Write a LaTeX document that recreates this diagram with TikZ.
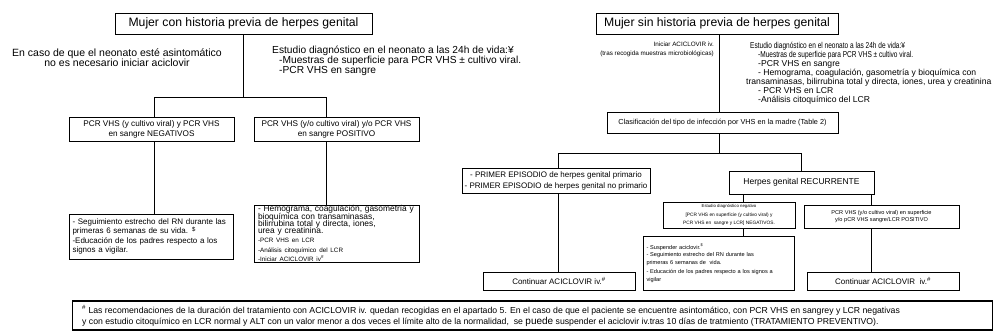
\documentclass[tikz,border=0pt]{standalone}
\usepackage{fontspec}
\usepackage{graphicx}
\setmainfont{Liberation Sans}
\newcommand{\fs}[1]{\fontsize{#1}{#1}\selectfont}
\newcommand{\estrecho}[1]{\scalebox{0.76}[1]{#1}}

\begin{document}
\begin{tikzpicture}[x=1pt,y=-1pt,
	every node/.style={inner sep=0pt},
	caja/.style={draw=black,line width=0.8pt,align=center},
	cajaizq/.style={draw=black,line width=0.8pt,align=left,inner xsep=3.5pt},
	linea/.style={black,line width=0.8pt}]
	\useasboundingbox (0,0) rectangle (994,335);
	\coordinate (xa) at (154,0);
	\coordinate (xb) at (326,0);
	\coordinate (xc) at (719,0);
	\coordinate (xe) at (743,0);
	\coordinate (xf) at (871,0);
	\coordinate (xg) at (558,0);
	\coordinate (r1) at (243.5,97);
	\coordinate (r2) at (719,153);
	% rama izquierda
	\node [caja,minimum width=257pt,minimum height=21pt,font=\fs{12.2}] (mcon) at (243.5,23.5) {Mujer con historia previa de herpes genital};
	\node [align=center,font=\fontsize{10.5}{10}\selectfont] (caso) at (117,58) {En caso de que el neonato esté asintomático\\no es necesario iniciar aciclovir};
	\node [anchor=north west,align=left,font=\fontsize{10.2}{9.8}\selectfont] (est1) at (272,46) {Estudio diagnóstico en el neonato a las 24h de vida:¥\\\hspace*{7pt}-Muestras de superficie para PCR VHS ± cultivo viral.\\\hspace*{7pt}-PCR VHS en sangre};
	\node [caja,minimum width=165pt,minimum height=24pt,font=\fs{8.2}] (neg) at (151.5,129) {PCR VHS (y cultivo viral) y PCR VHS\\[2pt]en sangre NEGATIVOS};
	\node [caja,minimum width=165pt,minimum height=24pt,font=\fs{8.2}] (pos) at (336.5,129) {PCR VHS (y/o cultivo viral) y/o PCR VHS\\[2pt]en sangre POSITIVO};
	\node [cajaizq,text width=157pt,minimum height=45pt,font=\fontsize{8}{9.4}\selectfont] (seg) at (151,236.5) {- Seguimiento estrecho del RN durante las\\primeras 6 semanas de su vida. \textsuperscript{\$}\\-Educación de los padres respecto a los\\signos a vigilar.};
	\node [cajaizq,text width=158pt,minimum height=57pt,font=\fs{8.4}] (hemo) at (337,233.5) {- Hemograma, coagulación, gasometría y\\[-1pt]bioquímica con transaminasas,\\[-1pt]bilirrubina total y directa, iones,\\[-1pt]urea y creatinina.\\[0.5pt]{\fs{6.3}-PCR VHS en LCR}\\[1pt]{\fs{6.3}-Análisis citoquímico del LCR}\\[1pt]{\fs{6.3}-Iniciar ACICLOVIR iv\textsuperscript{\#}}};
	\draw [linea] (mcon.south) -- (r1) -| (neg.north -| xa);
	\draw [linea] (r1) -| (pos.north -| xb);
	\draw [linea] (neg.south -| xa) -- (seg.north -| xa);
	\draw [linea] (pos.south -| xb) -- (hemo.north -| xb);
	% rama derecha
	\node [caja,minimum width=242pt,minimum height=21pt,font=\fs{12.2}] (msin) at (717,23.5) {Mujer sin historia previa de herpes genital};
	\node [anchor=east,align=right,font=\fontsize{6.3}{9}\selectfont] (ini) at (714,49.5) {Iniciar ACICLOVIR iv.\\(tras recogida muestras microbiológicas)};
	\node [anchor=north west,align=left,font=\fontsize{8.6}{9}\selectfont] (est2) at (746,42) {\hspace*{4pt}\estrecho{Estudio diagnóstico en el neonato a las 24h de vida:¥}\\\hspace*{12pt}\estrecho{-Muestras de superficie para PCR VHS ± cultivo viral.}\\\hspace*{12pt}-PCR VHS en sangre\\\hspace*{12pt}- Hemograma, coagulación, gasometría y bioquímica con\\transaminasas, bilirrubina total y directa, iones, urea y creatinina\\\hspace*{12pt}- PCR VHS en LCR\\\hspace*{12pt}-Análisis citoquímico del LCR};
	\node [caja,minimum width=231pt,minimum height=21pt,font=\fs{7.3}] (clas) at (722.5,122.5) {Clasificación del tipo de infección por VHS en la madre (Table 2)};
	\node [caja,minimum width=188pt,minimum height=25pt,font=\fs{8}] (prim) at (556,181) {- PRIMER EPISODIO de herpes genital primario\\[3pt]- PRIMER EPISODIO de herpes genital no primario};
	\node [caja,minimum width=145pt,minimum height=23pt,font=\fs{8.5}] (rec) at (801.5,182.5) {Herpes genital RECURRENTE};
	\node [caja,minimum width=132pt,minimum height=26pt,font=\fs{4.8}] (neste) at (729,215) {{\fs{4.3}Estudio diagnóstico negativo}\\[4pt]{[}PCR VHS en superficie (y cultivo viral) y\\[4pt]PCR VHS en\ \ sangre y LCR{]} NEGATIVOS.};
	\node [caja,minimum width=155pt,minimum height=23pt,font=\fs{5.6}] (posr) at (881.5,216.5) {PCR VHS (y/o cultivo viral) en superficie\\[1.5pt]y/o pCR VHS sangre/LCR POSITIVO};
	\node [cajaizq,text width=144pt,minimum height=54pt,font=\fs{5.6}] (susp) at (718.5,263) {- Suspender aciclovir.\textsuperscript{\$}\\[2pt]- Seguimiento estrecho del RN durante las\\[2pt]primeras 6 semanas de\ \ vida.\\[4pt]- Educación de los padres respecto a los signos a\\[1.5pt]vigilar};
	\node [caja,minimum width=152pt,minimum height=18pt,font=\fs{8}] (cont1) at (559,281) {Continuar ACICLOVIR iv.\textsuperscript{\#}};
	\node [caja,minimum width=152pt,minimum height=18pt,font=\fs{8}] (cont2) at (883,281) {Continuar ACICLOVIR\ \ iv.\textsuperscript{\#}};
	\draw [linea] (msin.south -| xc) -- (clas.north -| xc);
	\draw [linea] (clas.south -| xc) -- (r2) -| (prim.north -| xg);
	\draw [linea] (r2) -| (rec.north);
	\draw [linea] (rec.south -| xe) -- (neste.north -| xe);
	\draw [linea] (rec.south -| xf) -- (posr.north -| xf);
	\draw [linea] (neste.south -| xe) -- (susp.north -| xe);
	\draw [linea] (posr.south -| xf) -- (cont2.north -| xf);
	\draw [linea] (prim.south -| xg) -- (cont1.north -| xg);
	% nota
	\node [draw=black,line width=1.6pt,minimum width=920pt,minimum height=29pt] (nota) at (532.5,315.5) {};
	\node [anchor=west,align=left,font=\fs{8.7}] (notatxt) at (82,316) {\textsuperscript{\#} Las recomendaciones de la duración del tratamiento con ACICLOVIR iv. quedan recogidas en el apartado 5. En el caso de que el paciente se encuentre asintomático, con PCR VHS en sangrey y LCR negativas\\[1.5pt]y con estudio citoquímico en LCR normal y ALT con un valor menor a dos veces el límite alto de la normalidad,\ \ se {\fs{10}puede} suspender el aciclovir iv.tras 10 días de tratmiento (TRATAMIENTO PREVENTIVO).};
\end{tikzpicture}
\end{document}
